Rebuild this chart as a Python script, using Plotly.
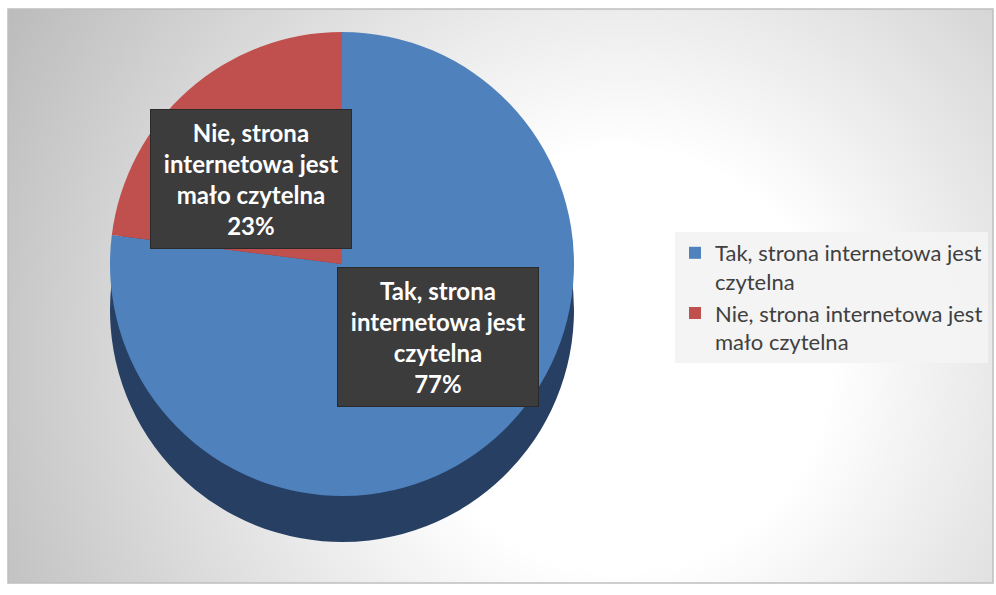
import base64
import plotly.graph_objects as go

# ---- data ----
categories = ["Tak, strona internetowa jest czytelna",
              "Nie, strona internetowa jest mało czytelna"]
legend_labels = ["Tak, strona internetowa jest<br>czytelna",
                 "Nie, strona internetowa jest<br>mało czytelna"]
values = [77, 23]
slice_colors = ["#4F81BD", "#C0504D"]
side_colors = ["#263F63", "#7E302E"]
box_labels = ["Tak, strona<br>internetowa jest<br>czytelna<br>77%",
              "Nie, strona<br>internetowa jest<br>mało czytelna<br>23%"]

W, H = 996, 595

def px_dom(cx, cy, r):
    return dict(x=[(cx - r) / W, (cx + r) / W],
                y=[1 - (cy + r) / H, 1 - (cy - r) / H])

# background gradient (svg data uri)
svg = f'''<svg xmlns="http://www.w3.org/2000/svg" width="{W}" height="{H}" viewBox="0 0 {W} {H}" preserveAspectRatio="none">
<defs><radialGradient id="g" gradientUnits="userSpaceOnUse" cx="620" cy="360" r="700">
<stop offset="0" stop-color="#ffffff"/><stop offset="0.3" stop-color="#ffffff"/>
<stop offset="1" stop-color="#bcbcbc"/></radialGradient></defs>
<rect x="0" y="0" width="{W}" height="{H}" fill="#ffffff"/>
<rect x="8" y="9" width="985" height="574" fill="url(#g)" stroke="#bfbfbf" stroke-width="1.5"/>
</svg>'''
bg_uri = "data:image/svg+xml;base64," + base64.b64encode(svg.encode()).decode()

cx, cy, r, depth = 342, 264, 232, 46

fig = go.Figure()
# 3D side (shadow copy)
fig.add_trace(go.Pie(labels=categories, values=values, sort=False,
                     direction="clockwise", rotation=0,
                     marker=dict(colors=side_colors, line=dict(width=0)),
                     textinfo="none", hoverinfo="skip", showlegend=False,
                     domain=px_dom(cx, cy + depth, r)))
# top face
fig.add_trace(go.Pie(labels=legend_labels, values=values, sort=False,
                     direction="clockwise", rotation=0,
                     marker=dict(colors=slice_colors, line=dict(width=0)),
                     textinfo="none", showlegend=True,
                     domain=px_dom(cx, cy, r)))

ann_pos = [(438, 337), (251, 179)]
for (ax, ay), txt in zip(ann_pos, box_labels):
    fig.add_annotation(x=ax / W, y=1 - ay / H, xref="paper", yref="paper",
                       xanchor="center", yanchor="middle",
                       text=f"<b>{txt}</b>", showarrow=False,
                       font=dict(family="Lato, Open Sans, sans-serif", size=24, color="white"),
                       bgcolor="#3c3c3c", width=198, height=136,
                       bordercolor="#2a2a2a", borderwidth=1, align="center")

fig.update_layout(
    width=W, height=H,
    margin=dict(l=0, r=0, t=0, b=0),
    paper_bgcolor="white", plot_bgcolor="white",
    images=[dict(source=bg_uri, xref="paper", yref="paper", x=0, y=1,
                 sizex=1, sizey=1, sizing="stretch", layer="below",
                 xanchor="left", yanchor="top")],
    legend=dict(x=675 / W, y=1 - 232 / H, xanchor="left", yanchor="top",
                bgcolor="rgba(243,243,243,0.95)", valign="top",
                font=dict(family="Lato, Open Sans, sans-serif", size=22, color="#404040"),
                itemwidth=30),
    font=dict(family="Lato, Open Sans, sans-serif"),
)

fig.write_html("out.html", config={"displayModeBar": False},
               post_script="document.body.style.margin='0';")
